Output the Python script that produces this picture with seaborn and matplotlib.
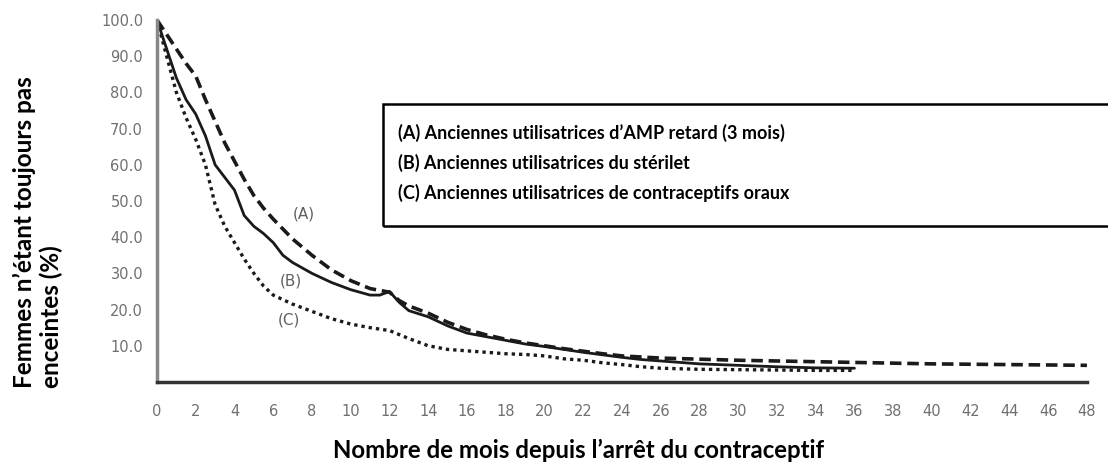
import matplotlib
matplotlib.use("Agg")
import matplotlib.pyplot as plt
import seaborn as sns
import pandas as pd
from matplotlib.patches import Rectangle

sns.set_theme(style="white")
plt.rcParams['font.family'] = ['Lato', 'DejaVu Sans']

# ---- data ----
months_A = [0, 0.5, 1, 1.5, 2, 2.5, 3, 3.5, 4, 4.5, 5, 5.5, 6, 7, 8, 9, 10, 11, 12, 12.5, 13, 14, 15, 16, 17, 18, 19, 20, 21, 22, 23, 24, 26, 28, 30, 32, 34, 36, 38, 40, 42, 44, 46, 48]
vals_A = [100, 96, 92, 88, 84.5, 78, 72, 66, 61, 56, 51.5, 48, 45, 39.5, 35, 31, 28, 25.8, 24.8, 22.5, 21, 19, 16.5, 14.5, 13, 11.8, 10.8, 10, 9.2, 8.5, 7.8, 7.2, 6.6, 6.3, 6.0, 5.8, 5.6, 5.4, 5.2, 5.0, 4.9, 4.8, 4.7, 4.6]

months_B = [0, 0.5, 1, 1.5, 2, 2.5, 3, 3.5, 4, 4.5, 5, 5.5, 6, 6.5, 7, 8, 9, 10, 11, 11.5, 12, 12.5, 13, 14, 15, 16, 17, 18, 19, 20, 21, 22, 23, 24, 25, 26, 28, 30, 32, 34, 36]
vals_B = [100, 92, 84, 78, 74, 68, 60, 56.5, 53, 46, 43, 41, 38.5, 35, 33, 30, 27.5, 25.5, 24, 24, 25, 22, 19.7, 18, 15.5, 13.5, 12.5, 11.5, 10.5, 9.8, 9, 8.2, 7.5, 6.8, 6.2, 5.8, 5, 4.6, 4.2, 3.9, 3.8]

months_C = [0, 0.5, 1, 1.5, 2, 2.5, 3, 3.5, 4, 4.5, 5, 5.5, 6, 7, 8, 9, 10, 11, 12, 13, 14, 15, 16, 17, 18, 19, 20, 21, 22, 23, 24, 25, 26, 28, 30, 32, 34, 36]
vals_C = [100, 90, 80, 73, 67, 60, 49, 43, 38.5, 34, 30, 26.5, 24, 21.5, 19.5, 17.5, 16, 15, 14.2, 12, 10, 9, 8.6, 8.2, 7.8, 7.6, 7.2, 6.4, 6, 5.3, 4.8, 4.2, 3.8, 3.5, 3.4, 3.3, 3.2, 3.2]

series_labels = ["(A)", "(B)", "(C)"]
legend_lines = ["(A) Anciennes utilisatrices d\u2019AMP retard (3 mois)",
                "(B) Anciennes utilisatrices du st\u00e9rilet",
                "(C) Anciennes utilisatrices de contraceptifs oraux"]
x_ticks = list(range(0, 49, 2))
y_ticks = [10, 20, 30, 40, 50, 60, 70, 80, 90, 100]
x_title = "Nombre de mois depuis l\u2019arr\u00eat du contraceptif"
y_title = "Femmes n\u2019\u00e9tant toujours pas\nenceintes (%)"

df = pd.concat([
    pd.DataFrame({"mois": months_A, "val": vals_A, "groupe": "A"}),
    pd.DataFrame({"mois": months_B, "val": vals_B, "groupe": "B"}),
    pd.DataFrame({"mois": months_C, "val": vals_C, "groupe": "C"}),
])

fig = plt.figure(figsize=(11.08, 4.63), dpi=100)
ax = fig.add_axes([0.1417, 0.175, 0.981 - 0.1417, 0.9568 - 0.175])

styles = {"A": dict(linestyle=(0, (3.2, 1.6)), linewidth=2.6),
          "B": dict(linestyle="-", linewidth=2.0),
          "C": dict(linestyle=(0, (1, 1.2)), linewidth=2.4)}
for g in ["A", "B", "C"]:
    sns.lineplot(data=df[df.groupe == g], x="mois", y="val", ax=ax,
                 color="#1a1a1a", legend=False, **styles[g])

tick_font = "DejaVu Sans"
ax.set_xlim(0, 48)
ax.set_ylim(0, 100)
ax.set_xticks(x_ticks)
ax.set_xticklabels([str(t) for t in x_ticks], family=tick_font, fontsize=10.5, color="#707070")
ax.set_yticks(y_ticks)
ax.set_yticklabels([f"{t:.1f}" for t in y_ticks], family=tick_font, fontsize=10.5, color="#707070")
ax.tick_params(axis="y", direction="out", length=6, width=2.5, color="#222222", pad=4)
ax.tick_params(axis="x", direction="out", length=7, width=1.8, color="#444444", pad=9)

for s in ["top", "right"]:
    ax.spines[s].set_visible(False)
ax.spines["left"].set_color("#888888")
ax.spines["left"].set_linewidth(2.5)
ax.spines["bottom"].set_color("#333333")
ax.spines["bottom"].set_linewidth(2.5)

ax.set_xlabel("")
ax.set_ylabel("")

# curve labels
lab_kw = dict(family=tick_font, fontsize=11, color="#606060")
ax.text(7.6, 46.5, series_labels[0], ha="center", va="center", **lab_kw)
ax.text(6.9, 28.0, series_labels[1], ha="center", va="center", **lab_kw)
ax.text(6.8, 17.0, series_labels[2], ha="center", va="center", **lab_kw)

# axis titles
fig.text(579 / 1108, 0.028, x_title, ha="center", va="center", fontsize=17.3, fontweight="bold", color="black")
fig.text(0.034, 1 - 388 / 463, y_title, ha="center", va="bottom", rotation=90, fontsize=17.5,
         fontweight="bold", color="black", linespacing=1.2, multialignment="left")

# legend box
box = Rectangle((383 / 1108, 1 - 226 / 463), 1.0, (226 - 104) / 463, transform=fig.transFigure,
                fill=False, edgecolor="black", linewidth=1.8, clip_on=False)
fig.patches.append(box)
for i, line in enumerate(legend_lines):
    fig.text(398 / 1108, 1 - (133 + 30 * i) / 463, line, ha="left", va="center",
             fontsize=13, fontweight="bold", color="black")

fig.savefig("out.png", dpi=100)
